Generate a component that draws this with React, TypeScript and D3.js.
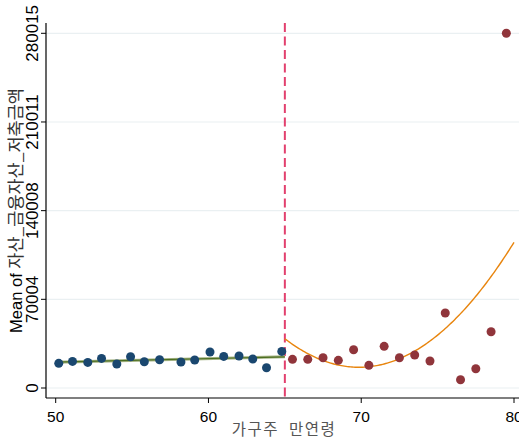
import React from "react";
import * as d3 from "d3";

// Binned means of household savings by age of household head
const leftAges = [50.2, 51.1, 52.1, 53.0, 54.0, 54.9, 55.8, 56.8, 58.2, 59.1, 60.1, 61.0, 62.0, 62.9, 63.8, 64.8];
const leftMeans = [19490, 20990, 20200, 23360, 18940, 24700, 20760, 22330, 20520, 22100, 28410, 24940, 25250, 22890, 16020, 28880];

const rightAges = [65.5, 66.5, 67.5, 68.5, 69.5, 70.5, 71.5, 72.5, 73.5, 74.5, 75.5, 76.5, 77.5, 78.5, 79.5];
const rightMeans = [22650, 22650, 23910, 21860, 30230, 17910, 32910, 23910, 26040, 21310, 59190, 6550, 15230, 44430, 280015];

// Quadratic fit above the cutoff: a + b*(age-65) + c*(age-65)^2
const quadCoef = [38900, -9287, 957.3];

const cutoff = 65;
const xTicks = [50, 60, 70, 80];
const yTicks = [0, 70004, 140008, 210011, 280015];

const W = 519;
const H = 439;

export default function App() {
  const x = d3.scaleLinear().domain([50, 80]).range([55.7, 514]);
  const y = d3.scaleLinear().domain([0, 280015]).range([388, 33.3]);
  const top = 23;
  const bottom = 398;
  const left = 46;

  // Linear least-squares fit of the left-side bins
  const mx = d3.mean(leftAges) as number;
  const my = d3.mean(leftMeans) as number;
  let sxy = 0;
  let sxx = 0;
  leftAges.forEach((a, i) => {
    sxy += (a - mx) * (leftMeans[i] - my);
    sxx += (a - mx) * (a - mx);
  });
  const slope = sxy / sxx;
  const lin = (a: number) => my + slope * (a - mx);
  const linPts: [number, number][] = [50, cutoff].map((a) => [x(a), y(lin(a))]);

  const quad = (a: number) => quadCoef[0] + quadCoef[1] * (a - cutoff) + quadCoef[2] * (a - cutoff) ** 2;
  const quadAges = d3.range(cutoff, 80.001, 0.1);
  const line = d3.line<[number, number]>().x((d) => d[0]).y((d) => d[1]);
  const quadPath = line(quadAges.map((a) => [x(a), y(quad(a))]));
  const linPath = line(linPts);

  const font = "'Liberation Sans', Arial, 'Noto Sans CJK KR', sans-serif";
  const cjk = "'Noto Sans CJK KR', sans-serif";

  return (
    <svg
      width={W}
      height={H}
      style={{ position: "absolute", left: 0, top: 0, background: "#fff" }}
      fontFamily={font}
    >
      {/* gridlines */}
      {yTicks.map((t) => (
        <line key={"g" + t} x1={left} x2={W} y1={y(t)} y2={y(t)} stroke="#eaf0f2" strokeWidth={1.2} />
      ))}

      {/* cutoff */}
      <line
        x1={x(cutoff)}
        x2={x(cutoff)}
        y1={top}
        y2={bottom}
        stroke="#e2406e"
        strokeWidth={2}
        strokeDasharray="9 4.5"
      />

      {/* fits */}
      <path d={linPath ?? ""} fill="none" stroke="#a4b383" strokeWidth={3} />
      <path d={linPath ?? ""} fill="none" stroke="#4c6e21" strokeWidth={1.1} />
      <path d={quadPath ?? ""} fill="none" stroke="#e8850e" strokeWidth={1.4} />

      {/* bins */}
      {leftAges.map((a, i) => (
        <circle key={"l" + i} cx={x(a)} cy={y(leftMeans[i])} r={4.5} fill="#1a476f" />
      ))}
      {rightAges.map((a, i) => (
        <circle key={"r" + i} cx={x(a)} cy={y(rightMeans[i])} r={4.5} fill="#90353b" />
      ))}

      {/* axes */}
      <line x1={left} x2={left} y1={top} y2={bottom} stroke="#000" strokeWidth={1.2} />
      <line x1={left} x2={W} y1={bottom} y2={bottom} stroke="#000" strokeWidth={1.2} />
      {yTicks.map((t) => (
        <g key={"yt" + t}>
          <line x1={left - 5} x2={left} y1={y(t)} y2={y(t)} stroke="#000" strokeWidth={1} />
          <text
            transform={`translate(38,${y(t)}) rotate(-90)`}
            textAnchor="middle"
            fontSize={17}
            fill="#000"
          >
            {t}
          </text>
        </g>
      ))}
      {xTicks.map((t) => (
        <g key={"xt" + t}>
          <line x1={x(t)} x2={x(t)} y1={bottom} y2={bottom + 5} stroke="#000" strokeWidth={1} />
          <text x={x(t)} y={422} textAnchor="middle" fontSize={15.5} fill="#000">
            {t}
          </text>
        </g>
      ))}

      {/* axis titles */}
      <text
        x={284}
        y={435}
        textAnchor="middle"
        fontSize={15.5}
        letterSpacing={1.5}
        fill="#555"
        fontFamily={cjk}
        style={{ whiteSpace: "pre" }}
      >
        {"가구주  만연령"}
      </text>
      <text
        transform={`translate(22,${(top + bottom) / 2}) rotate(-90)`}
        textAnchor="middle"
        fontSize={16.5}
        fill="#000"
      >
        <tspan>Mean of </tspan>
        <tspan fill="#333" fontSize={17.5} fontFamily={cjk}>자산_금융자산_저축금액</tspan>
      </text>
    </svg>
  );
}
